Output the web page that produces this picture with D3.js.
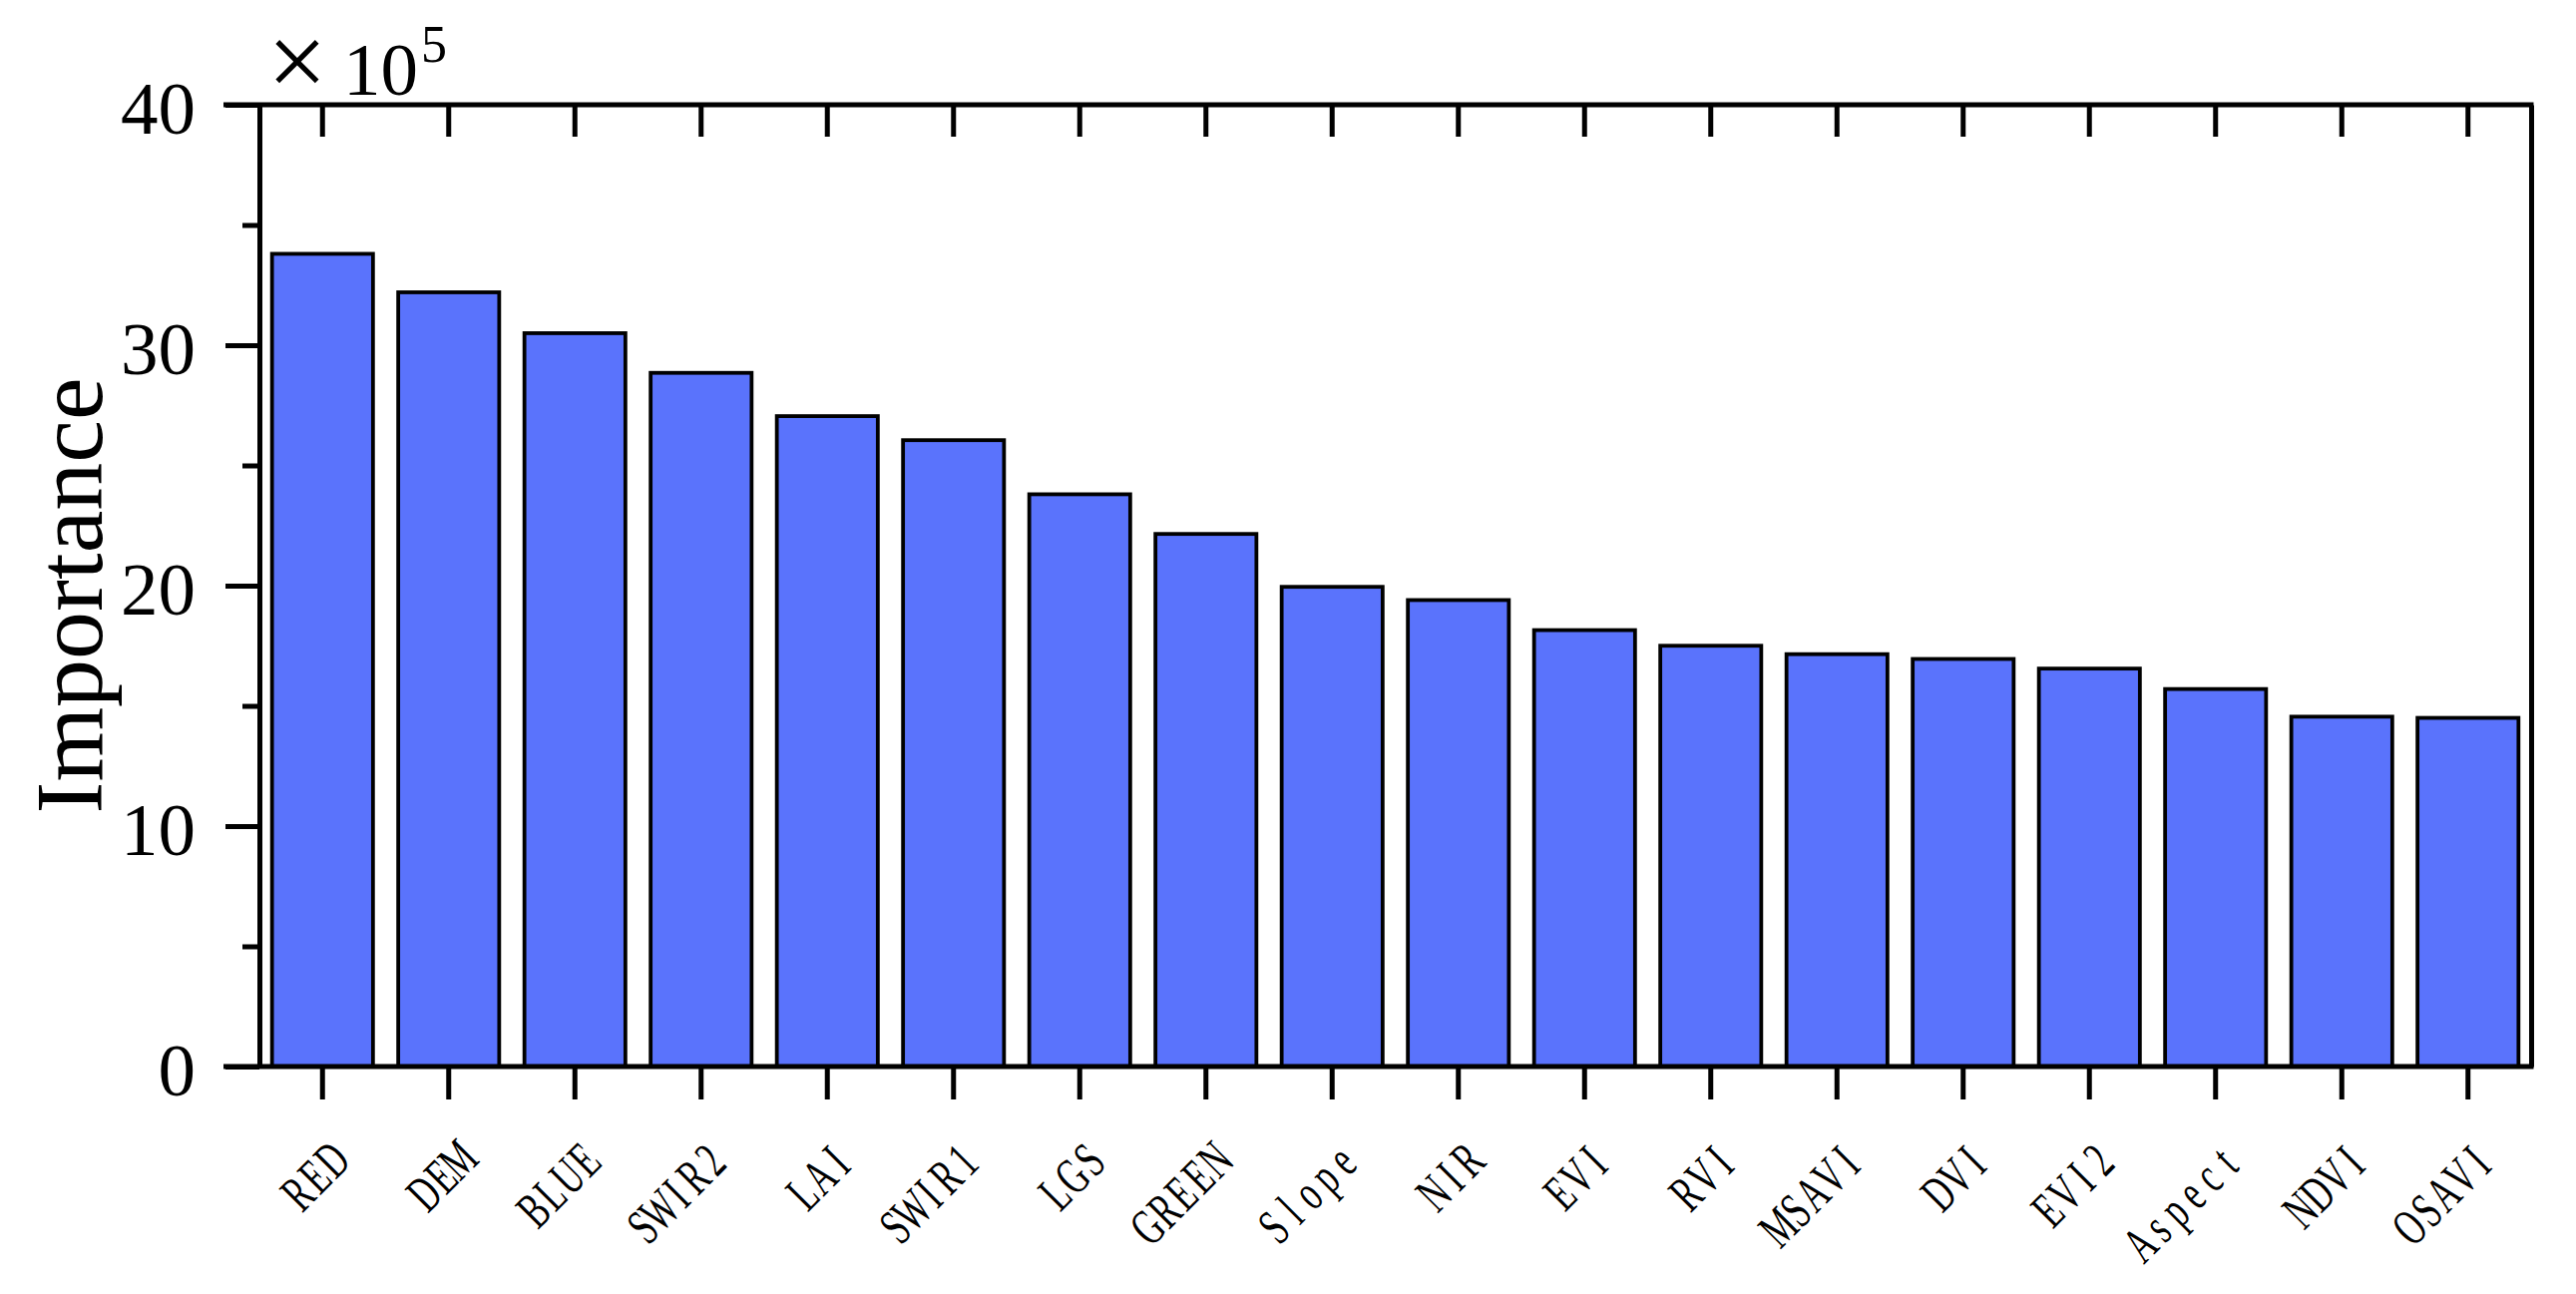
<!DOCTYPE html>
<html>
<head>
<meta charset="utf-8">
<script src="https://cdn.jsdelivr.net/npm/d3@7"></script>
<style>
  html, body { margin: 0; padding: 0; background: #fff; }
  svg { display: block; }
</style>
</head>
<body>
<svg id="chart" width="2582" height="1297"></svg>
<script>
const categories = ["RED","DEM","BLUE","SWIR2","LAI","SWIR1","LGS","GREEN","Slope","NIR","EVI","RVI","MSAVI","DVI","EVI2","Aspect","NDVI","OSAVI"];
const importance = [33.8, 32.2, 30.5, 28.85, 27.05, 26.05, 23.8, 22.15, 19.95, 19.4, 18.15, 17.5, 17.15, 16.95, 16.55, 15.7, 14.55, 14.5];
const yTicks = [0, 10, 20, 30, 40];
const yMinorTicks = [5, 15, 25, 35];
const yLabel = "Importance";
const scaleLabel = { times: "×", base: "10", exp: "5" };

(function () {
const svg = d3.select("#chart");
const W = 2582, H = 1297;
const m = { left: 260, right: W - 2537, top: 105, bottom: H - 1069 };

const x = d3.scaleBand().domain(categories).range([m.left, W - m.right])
  .paddingInner(0.2).paddingOuter(0.1);
const y = d3.scaleLinear().domain([0, 40]).range([H - m.bottom, m.top]);

const serif = "'Liberation Serif', 'Times New Roman', serif";
const axisW = 5;

// bars
svg.append("g").selectAll("rect").data(categories).join("rect")
  .attr("x", d => x(d))
  .attr("y", (d, i) => y(importance[i]))
  .attr("width", x.bandwidth())
  .attr("height", (d, i) => y(0) - y(importance[i]))
  .attr("fill", "#5a73fc")
  .attr("stroke", "#000")
  .attr("stroke-width", 3.8);

function styleAxis(g) {
  g.selectAll(".domain").attr("stroke", "#000").attr("stroke-width", axisW);
  g.selectAll(".tick line").attr("stroke", "#000").attr("stroke-width", axisW);
}

// left axis major
const leftAx = svg.append("g").attr("transform", `translate(${m.left},0)`)
  .call(d3.axisLeft(y).tickValues(yTicks).tickSize(34).tickSizeOuter(0).tickPadding(30).tickFormat(d3.format("d")));
styleAxis(leftAx);
leftAx.selectAll(".tick text").attr("font-family", serif).attr("font-size", 75).attr("fill", "#000").attr("dy", "0.38em");
// left minor
const leftMinor = svg.append("g").attr("transform", `translate(${m.left},0)`)
  .call(d3.axisLeft(y).tickValues(yMinorTicks).tickSize(17).tickFormat(""));
leftMinor.select(".domain").remove();
styleAxis(leftMinor);

// right axis (plain line)
const rightAx = svg.append("g").attr("transform", `translate(${W - m.right},0)`)
  .call(d3.axisRight(y).tickValues([]).tickSizeOuter(0));
styleAxis(rightAx);

// bottom axis
const bottomAx = svg.append("g").attr("transform", `translate(0,${H - m.bottom})`)
  .call(d3.axisBottom(x).tickSize(33).tickSizeOuter(0).tickFormat(""));
styleAxis(bottomAx);
bottomAx.select(".domain").attr("d", `M${m.left - 36},0H${W - m.right + 2.5}`);

// top axis, ticks pointing inward
const topAx = svg.append("g").attr("transform", `translate(0,${m.top})`)
  .call(d3.axisBottom(x).tickSize(32).tickSizeOuter(0).tickFormat(""));
styleAxis(topAx);
topAx.select(".domain").attr("d", `M${m.left - 36},0H${W - m.right + 2.5}`);

// category labels: rotated, narrow fixed-pitch serif look
const labelScaleX = 0.65;
const cellAdv = 24 / labelScaleX;
const labels = svg.append("g").selectAll("text").data(categories).join("text")
  .attr("transform", d => `translate(${x(d) + x.bandwidth() / 2 + 30},${H - m.bottom + 97}) rotate(-45) scale(${labelScaleX},1)`)
  .attr("font-family", serif)
  .attr("font-size", 52)
  .attr("fill", "#000");
labels.each(function (d) {
  const chars = Array.from(d);
  const n = chars.length;
  d3.select(this).selectAll("tspan").data(chars).join("tspan")
    .attr("x", (c, i) => -(n - i - 0.5) * cellAdv)
    .attr("y", 0)
    .attr("text-anchor", "middle")
    .text(c => c);
});

// y axis title
svg.append("text")
  .attr("transform", `translate(102,${(y(0) + y(40)) / 2 + 10}) rotate(-90)`)
  .attr("text-anchor", "middle")
  .attr("font-family", serif)
  .attr("font-size", 96)
  .attr("fill", "#000")
  .text(yLabel);

// scale factor label
svg.append("text").attr("x", 298).attr("y", 97)
  .attr("text-anchor", "middle")
  .attr("font-family", serif).attr("font-size", 106).attr("fill", "#000")
  .text(scaleLabel.times);
const sf = svg.append("text").attr("x", 344).attr("y", 95)
  .attr("font-family", serif).attr("fill", "#000");
sf.append("tspan").attr("font-size", 75).text(scaleLabel.base);
sf.append("tspan").attr("font-size", 52).attr("dx", 3).attr("dy", -33).text(scaleLabel.exp);
})();
</script>
</body>
</html>
